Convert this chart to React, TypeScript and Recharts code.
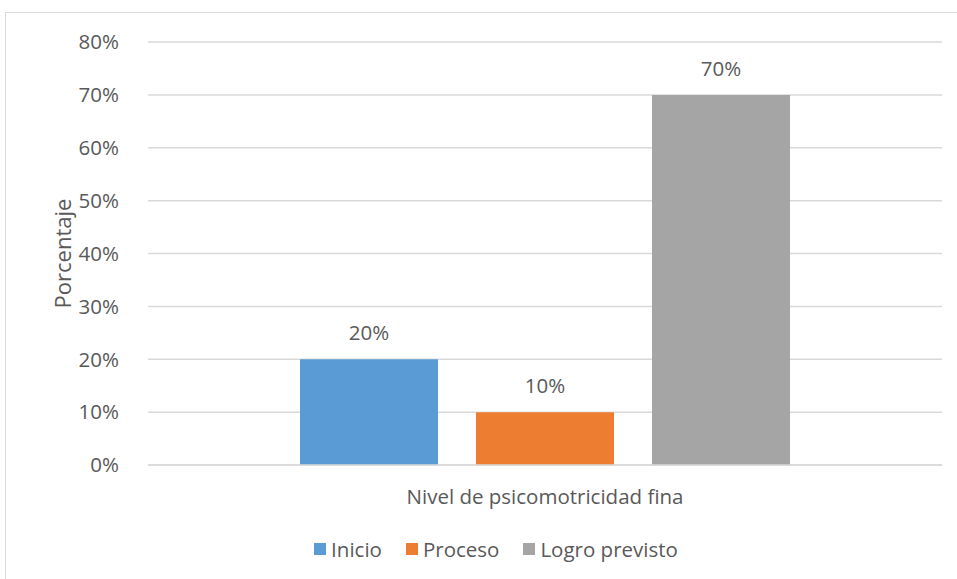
import { BarChart, Bar, XAxis, YAxis, CartesianGrid, Legend, LabelList } from 'recharts'

const categories = ['Nivel de psicomotricidad fina']
const seriesNames = ['Inicio', 'Proceso', 'Logro previsto']
const inicio = [0.2]
const proceso = [0.1]
const logro = [0.7]
const yTicks = [0, 0.1, 0.2, 0.3, 0.4, 0.5, 0.6, 0.7, 0.8]

const data = categories.map((name, i) => ({
  name,
  inicio: inicio[i],
  proceso: proceso[i],
  logro: logro[i],
}))

const FONT = '"Open Sans", sans-serif'
const TEXT = '#595959'
const GRID = '#d9d9d9'
const FS = 20.5

const pct = (v: number) => `${Math.round(v * 100)}%`

const YLabel = ({ viewBox }: any) => {
  const cy = viewBox.y + viewBox.height / 2
  return (
    <text
      x={62}
      y={cy}
      transform={`rotate(-90, 62, ${cy})`}
      textAnchor="middle"
      dominantBaseline="central"
      fill={TEXT}
      fontSize={22}
      fontFamily={FONT}
    >
      Porcentaje
    </text>
  )
}

// keep legend in series order (recharts sorts by name otherwise)
const LegendContent = ({ payload }: any) => {
  const items = [...(payload || [])].sort(
    (a: any, b: any) => seriesNames.indexOf(a.value) - seriesNames.indexOf(b.value)
  )
  return (
    <div style={{ display: 'flex', justifyContent: 'center', gap: 24, paddingRight: 38, fontFamily: FONT, fontSize: FS, color: TEXT }}>
      {items.map((it: any) => (
        <div key={it.value} style={{ display: 'flex', alignItems: 'center', gap: 5 }}>
          <span style={{ width: 12, height: 12, background: it.color, display: 'inline-block' }} />
          <span>{it.value}</span>
        </div>
      ))}
    </div>
  )
}

export default function App() {
  return (
    <div style={{ position: 'fixed', left: 0, top: 0, width: 957, height: 579, overflow: 'hidden', background: '#fff' }}>
      <div style={{ position: 'absolute', left: 5, top: 12, width: 1000, height: 700, border: `1px solid ${GRID}` }} />
      <div style={{ position: 'absolute', left: 0, top: 0 }}>
        <BarChart
          width={957}
          height={579}
          data={data}
          margin={{ top: 42, right: 15, left: 88, bottom: 16 }}
          barSize={138}
          barGap={38}
        >
          <CartesianGrid vertical={false} stroke={GRID} strokeWidth={1.5} />
          <XAxis
            dataKey="name"
            axisLine={{ stroke: GRID, strokeWidth: 1.5 }}
            tickLine={false}
            height={70}
            tick={{ fill: TEXT, fontSize: FS, fontFamily: FONT }}
            tickMargin={18}
          />
          <YAxis
            width={60}
            domain={[0, 0.8]}
            ticks={yTicks}
            tickFormatter={pct}
            axisLine={false}
            tickLine={false}
            tick={{ fill: TEXT, fontSize: FS, fontFamily: FONT }}
            tickMargin={23}
            label={<YLabel />}
          />
          <Legend verticalAlign="bottom" content={<LegendContent />} />
          <Bar dataKey="inicio" name="Inicio" fill="#5b9bd5" isAnimationActive={false}>
            <LabelList dataKey="inicio" position="top" offset={19} formatter={pct} fill={TEXT} fontSize={FS} fontFamily={FONT} />
          </Bar>
          <Bar dataKey="proceso" name="Proceso" fill="#ed7d31" isAnimationActive={false}>
            <LabelList dataKey="proceso" position="top" offset={19} formatter={pct} fill={TEXT} fontSize={FS} fontFamily={FONT} />
          </Bar>
          <Bar dataKey="logro" name="Logro previsto" fill="#a5a5a5" isAnimationActive={false}>
            <LabelList dataKey="logro" position="top" offset={19} formatter={pct} fill={TEXT} fontSize={FS} fontFamily={FONT} />
          </Bar>
        </BarChart>
      </div>
    </div>
  )
}
